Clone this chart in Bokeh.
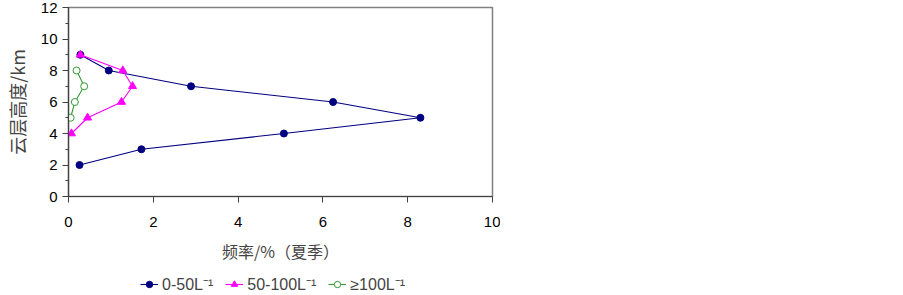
from bokeh.plotting import figure
from bokeh.models import Range1d, SingleIntervalTicker, Legend, LegendItem
from bokeh.layouts import column
from bokeh.embed import file_html
from bokeh.resources import INLINE

# Data
heights_a = [9, 8, 7, 6, 5, 4, 3, 2]
freq_a = [0.28, 0.95, 2.89, 6.24, 8.30, 5.08, 1.72, 0.26]   # 0-50 L^-1

heights_b = [9, 8, 7, 6, 5, 4]
freq_b = [0.28, 1.28, 1.51, 1.25, 0.45, 0.07]               # 50-100 L^-1

heights_c = [8, 7, 6, 5]
freq_c = [0.19, 0.37, 0.15, 0.05]                           # >=100 L^-1

labels = ["0-50L\u207b\u00b9", "50-100L\u207b\u00b9", "\u2265100L\u207b\u00b9"]
x_label = "频率/%（夏季）"
y_label = "云层高度/km"

navy = "#000080"
magenta = "#FF00FF"
green = "#339933"

p = figure(width=500, height=274, output_backend="svg", toolbar_location=None,
           x_range=Range1d(0, 10), y_range=Range1d(0, 12),
           min_border_left=60, min_border_right=8, min_border_top=7, min_border_bottom=78)

p.xgrid.visible = False
p.ygrid.visible = False
p.outline_line_color = "#808080"
p.outline_line_width = 1.5

for ax in (p.xaxis[0], p.yaxis[0]):
    ax.axis_line_color = "#404040"
    ax.axis_line_width = 1.2
    ax.major_tick_line_color = "#404040"
    ax.minor_tick_line_color = "#404040"
    ax.major_tick_in = 0
    ax.major_tick_out = 6
    ax.minor_tick_in = 0
    ax.minor_tick_out = 3
    ax.major_label_text_font = "Liberation Sans"
    ax.major_label_text_font_size = "15px"
    ax.major_label_text_color = "black"
    ax.axis_label_text_font = "Noto Sans CJK SC"
    ax.axis_label_text_font_style = "normal"
    ax.axis_label_text_color = "#444444"

p.xaxis.axis_label_text_font_size = "16px"
p.yaxis.axis_label_text_font_size = "18px"
p.xaxis.ticker = SingleIntervalTicker(interval=2, num_minor_ticks=0)
p.yaxis.ticker = SingleIntervalTicker(interval=2, num_minor_ticks=2)
p.xaxis.major_label_standoff = 14
p.yaxis.major_label_standoff = 5
p.xaxis.axis_label = x_label
p.yaxis.axis_label = y_label
p.xaxis.axis_label_standoff = 9
p.yaxis.axis_label_standoff = 8

p.line(freq_a, heights_a, line_color=navy, line_width=1.1)
p.scatter(freq_a, heights_a, marker="circle", size=7, fill_color=navy, line_color=navy)
p.line(freq_b, heights_b, line_color=magenta, line_width=1.1)
p.scatter(freq_b, heights_b, marker="triangle", size=8, fill_color=magenta, line_color=magenta)
p.line(freq_c, heights_c, line_color=green, line_width=1.1)
p.scatter(freq_c, heights_c, marker="circle", size=7, fill_color="white", line_color=green)

# Legend strip below the chart (same series, drawn outside its visible range so only the legend shows)
q = figure(width=500, height=21, output_backend="svg", toolbar_location=None,
           x_range=Range1d(100, 101), y_range=Range1d(100, 101),
           x_axis_type=None, y_axis_type=None,
           min_border_left=0, min_border_right=0, min_border_top=0, min_border_bottom=0)
q.outline_line_color = None
la = q.line(freq_a, heights_a, line_color=navy, line_width=1.1)
sa = q.scatter(freq_a, heights_a, marker="circle", size=5, fill_color=navy, line_color=navy)
lb = q.line(freq_b, heights_b, line_color=magenta, line_width=1.1)
sb = q.scatter(freq_b, heights_b, marker="triangle", size=6, fill_color=magenta, line_color=magenta)
lc = q.line(freq_c, heights_c, line_color=green, line_width=1.1)
sc = q.scatter(freq_c, heights_c, marker="circle", size=5, fill_color="white", line_color=green)

legend = Legend(items=[
    LegendItem(label=labels[0], renderers=[la, sa]),
    LegendItem(label=labels[1], renderers=[lb, sb]),
    LegendItem(label=labels[2], renderers=[lc, sc]),
], orientation="horizontal", location=(72, 0),
   label_text_font="Liberation Sans", label_text_font_size="16px",
   glyph_width=18, glyph_height=16, label_height=16, label_standoff=4, spacing=12,
   padding=1, margin=0,
   border_line_color=None, background_fill_alpha=0)
q.add_layout(legend, "center")

layout = column(p, q, spacing=0)
open("out.html", "w").write(file_html(layout, INLINE))
